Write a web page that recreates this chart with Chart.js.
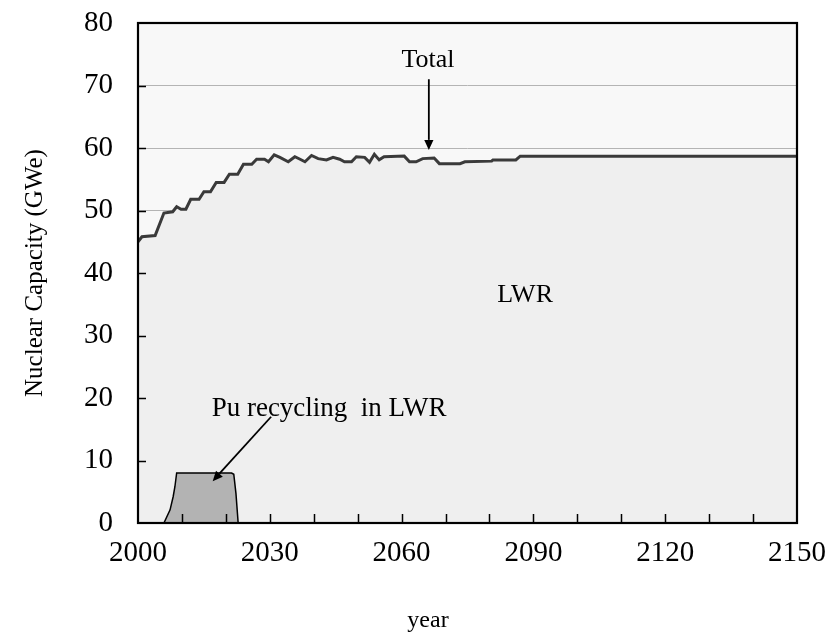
<!DOCTYPE html>
<html>
<head>
<meta charset="utf-8">
<script src="https://cdn.jsdelivr.net/npm/chart.js@4/dist/chart.umd.min.js"></script>
<style>
  html, body { margin: 0; padding: 0; background: #ffffff; }
  #c { display: block; }
</style>
</head>
<body>
<canvas id="c" width="832" height="637"></canvas>
<script>
// Total installed nuclear capacity (GWe), by year
const totalYears = [2000, 2000.9, 2003.9, 2005.9, 2007.9, 2008.8, 2009.8, 2010.9, 2012.0, 2013.9,
                    2015.0, 2016.5, 2017.8, 2019.6, 2020.8, 2022.7, 2024.0, 2025.9, 2027.0, 2028.8,
                    2029.7, 2031.0, 2032.3, 2034.2, 2035.7, 2036.9, 2038.0, 2039.5, 2041.0, 2042.9,
                    2044.4, 2045.9, 2047.0, 2048.6, 2049.7, 2051.6, 2052.7, 2053.8, 2054.9, 2056.0,
                    2060.6, 2061.8, 2063.3, 2064.8, 2067.4, 2068.6, 2073.3, 2074.4, 2080.5, 2080.8,
                    2086.0, 2087.0, 2150];
const totalGWe   = [45.0, 45.8, 46.0, 49.6, 49.8, 50.6, 50.2, 50.2, 51.8, 51.8,
                    53.0, 53.0, 54.5, 54.5, 55.8, 55.8, 57.4, 57.4, 58.2, 58.2,
                    57.8, 58.9, 58.5, 57.8, 58.6, 58.2, 57.8, 58.8, 58.3, 58.1,
                    58.5, 58.2, 57.8, 57.8, 58.6, 58.5, 57.7, 59.0, 58.1, 58.6,
                    58.7, 57.8, 57.8, 58.3, 58.4, 57.5, 57.5, 57.8, 57.9, 58.1,
                    58.1, 58.7, 58.7];

// Capacity running on recycled Pu in LWRs (GWe)
const puYears = [2005.9, 2007.3, 2008.0, 2008.4, 2008.8, 2021.3, 2021.8, 2022.3, 2022.8];
const puGWe   = [0, 2.1, 4.2, 5.8, 8.0, 8.0, 7.8, 4.7, 0];

// Axis labels
const xLabelYears = [2000, 2030, 2060, 2090, 2120, 2150];
const yLabelValues = [0, 10, 20, 30, 40, 50, 60, 70, 80];

const SERIF = "'Liberation Serif', 'Times New Roman', serif";

const toPoints = (xs, ys) => xs.map((x, i) => ({ x: x, y: ys[i] }));

// Text callouts and arrows, placed in data coordinates
const callouts = [
  { text: 'Total', x: 2066.0, y: 74.0, size: 26 },
  { text: 'LWR', x: 2088.1, y: 36.4, size: 26 },
  { text: 'Pu recycling  in LWR', x: 2043.5, y: 18.3, size: 27 }
];
const arrows = [
  { from: [2066.2, 71.0], to: [2066.2, 59.7] },
  { from: [2030.3, 17.0], to: [2017.0, 6.7] }
];

const framePlugin = {
  id: 'frame',
  beforeDraw(chart) {
    const { ctx, chartArea: a } = chart;
    ctx.save();
    ctx.fillStyle = '#f8f8f8';
    ctx.fillRect(a.left, a.top, a.width, a.height);
    ctx.restore();
  },
  afterDatasetsDraw(chart) {
    const { ctx, chartArea: a, scales: { x, y } } = chart;
    ctx.save();
    ctx.strokeStyle = '#000';
    ctx.lineWidth = 1.5;
    ctx.beginPath();
    // inward tick marks
    for (let v = 10; v < 80; v += 10) {
      const py = Math.round(y.getPixelForValue(v)) + 0.5;
      ctx.moveTo(a.left, py);
      ctx.lineTo(a.left + 8, py);
    }
    for (let yr = 2010; yr < 2150; yr += 10) {
      const px = Math.round(x.getPixelForValue(yr)) + 0.5;
      ctx.moveTo(px, a.bottom);
      ctx.lineTo(px, a.bottom - 9);
    }
    ctx.stroke();
    // plot frame
    ctx.lineWidth = 2.2;
    ctx.strokeRect(a.left, a.top, a.width, a.height);

    // arrows
    ctx.lineWidth = 1.8;
    ctx.fillStyle = '#000';
    arrows.forEach(ar => {
      const x0 = x.getPixelForValue(ar.from[0]), y0 = y.getPixelForValue(ar.from[1]);
      const x1 = x.getPixelForValue(ar.to[0]), y1 = y.getPixelForValue(ar.to[1]);
      const ang = Math.atan2(y1 - y0, x1 - x0);
      const len = 10, half = 4.6;
      const bx = x1 - len * Math.cos(ang), by = y1 - len * Math.sin(ang);
      ctx.beginPath();
      ctx.moveTo(x0, y0);
      ctx.lineTo(bx, by);
      ctx.stroke();
      ctx.beginPath();
      ctx.moveTo(x1, y1);
      ctx.lineTo(bx + half * Math.sin(ang), by - half * Math.cos(ang));
      ctx.lineTo(bx - half * Math.sin(ang), by + half * Math.cos(ang));
      ctx.closePath();
      ctx.fill();
    });

    // callout text
    ctx.textAlign = 'center';
    ctx.textBaseline = 'middle';
    callouts.forEach(c => {
      ctx.font = c.size + 'px ' + SERIF;
      ctx.fillText(c.text, x.getPixelForValue(c.x), y.getPixelForValue(c.y));
    });

    // horizontal axis caption, set left of the plot centre
    ctx.font = '24px ' + SERIF;
    ctx.fillText('year', 428, 621);
    ctx.restore();
  }
};

new Chart(document.getElementById('c'), {
  type: 'line',
  data: {
    datasets: [
      {
        label: 'Pu recycling in LWR',
        data: toPoints(puYears, puGWe),
        borderColor: '#000000',
        borderWidth: 1.5,
        backgroundColor: '#b3b3b3',
        fill: 'origin',
        pointRadius: 0,
        tension: 0,
        order: 0
      },
      {
        label: 'Total',
        data: toPoints(totalYears, totalGWe),
        borderColor: '#3a3a3a',
        borderWidth: 3,
        backgroundColor: '#efefef',
        fill: 'origin',
        pointRadius: 0,
        tension: 0,
        order: 1
      }
    ]
  },
  options: {
    responsive: false,
    animation: false,
    devicePixelRatio: 1,
    layout: { padding: { left: 0, right: 35, top: 23, bottom: 0 } },
    plugins: {
      legend: { display: false },
      tooltip: { enabled: false }
    },
    scales: {
      x: {
        type: 'linear',
        min: 2000,
        max: 2150,
        afterBuildTicks(s) { s.ticks = xLabelYears.map(v => ({ value: v })); },
        ticks: {
          callback: v => String(v),
          font: { family: SERIF, size: 29 },
          color: '#000',
          padding: 13,
          maxRotation: 0,
          autoSkip: false
        },
        grid: { display: false, drawTicks: false },
        border: { display: false },
        title: { display: false },
        afterFit(s) {
          s.height = 114;
          s.paddingLeft = 0;
          s.paddingRight = 0;
        }
      },
      y: {
        min: 0,
        max: 80,
        afterBuildTicks(s) { s.ticks = yLabelValues.map(v => ({ value: v })); },
        ticks: {
          callback: v => String(v),
          font: { family: SERIF, size: 29 },
          color: '#000',
          padding: 25
        },
        grid: {
          color: c => (c.tick && c.tick.value > 0 && c.tick.value < 80) ? '#b4b4b4' : 'rgba(0,0,0,0)',
          lineWidth: 1,
          drawTicks: false
        },
        border: { display: false },
        title: {
          display: true,
          text: 'Nuclear Capacity (GWe)',
          font: { family: SERIF, size: 25 },
          color: '#000',
          padding: { top: 20, bottom: 0 }
        },
        afterFit(s) {
          s.width = 138;
          s.paddingTop = 0;
          s.paddingBottom = 0;
        }
      }
    }
  },
  plugins: [framePlugin]
});
</script>
</body>
</html>
